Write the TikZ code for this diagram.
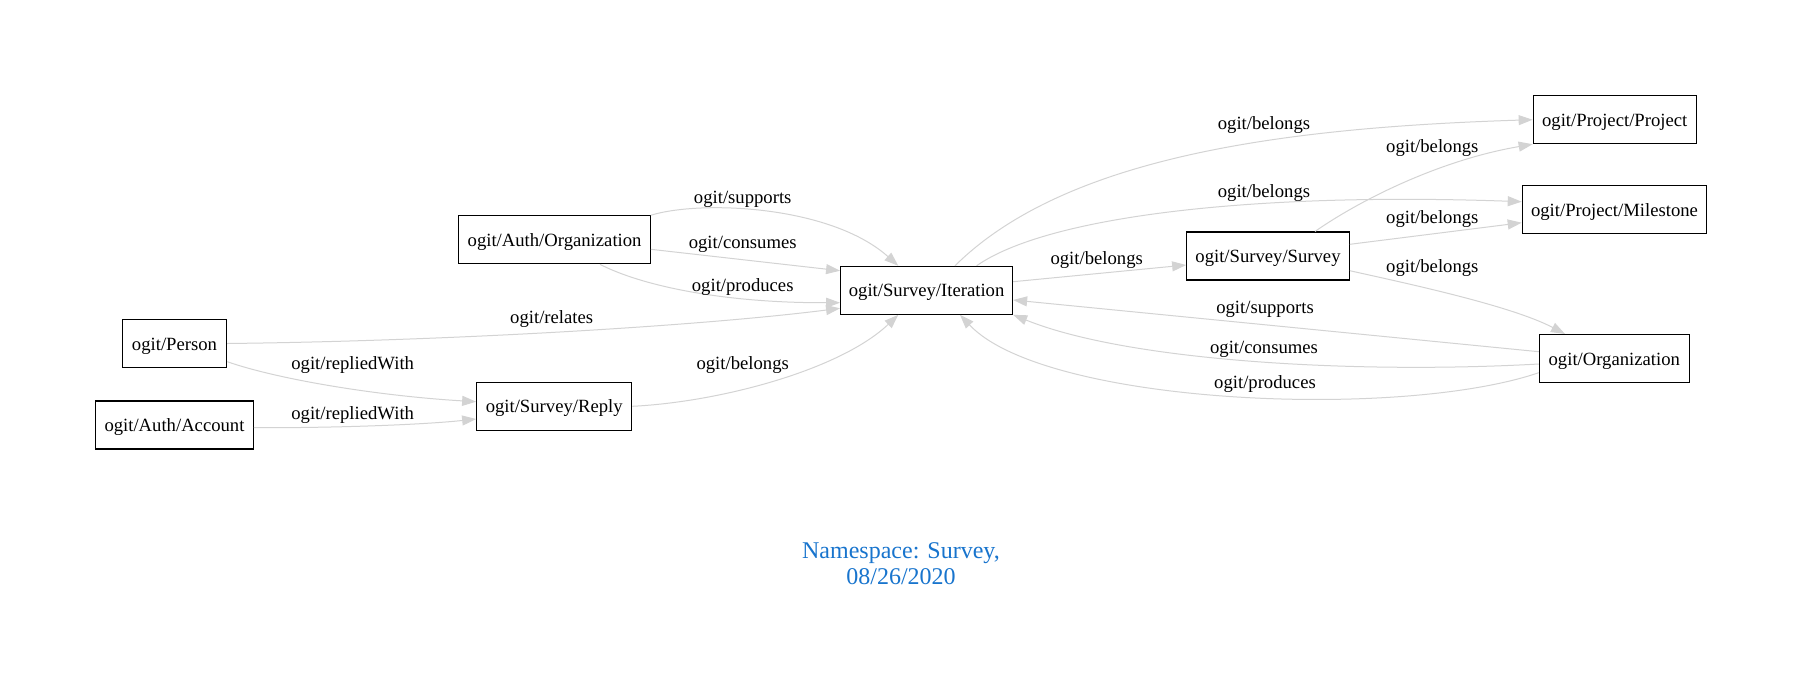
\documentclass[tikz,border=0pt]{standalone}
\usepackage{fontspec}
\setmainfont{Liberation Serif}
\usetikzlibrary{arrows.meta,calc}
\definecolor{edgegray}{RGB}{211,211,211}
\definecolor{titleblue}{RGB}{24,116,205}
\begin{document}
\begin{tikzpicture}[x=0.75pt,y=-0.75pt,
  box/.style={draw=black,line width=0.8pt,minimum height=36pt,inner sep=0pt,text height=13pt,text depth=3pt,font=\fontsize{14}{16}\selectfont},
  edge/.style={draw=edgegray,line width=0.75pt,-{Triangle[length=10.5pt,width=7.5pt,fill=edgegray]}},
  lbl/.style={font=\fontsize{14}{16}\selectfont,inner sep=0pt,text height=13pt,text depth=3pt}]
\useasboundingbox (0,0) rectangle (1803,693);
% nodes
\node[box,minimum width=122.3pt] (proj) at (1614.7,119.7) {ogit/Project/Project};
\node[box,minimum width=138.4pt] (mile) at (1614.5,209.5) {ogit/Project/Milestone};
\node[box,minimum width=122pt] (surv) at (1268,256) {ogit/Survey/Survey};
\node[box,minimum width=112.5pt] (org) at (1614.3,358.5) {ogit/Organization};
\node[box,minimum width=129pt] (iter) at (926.6,290.3) {ogit/Survey/Iteration};
\node[box,minimum width=143.5pt] (aorg) at (554.6,239.8) {ogit/Auth/Organization};
\node[box,minimum width=78.3pt] (person) at (174.5,343.5) {ogit/Person};
\node[box,minimum width=118.2pt] (account) at (174.5,425) {ogit/Auth/Account};
\node[box,minimum width=116.3pt] (reply) at (554.2,406.3) {ogit/Survey/Reply};
% edges
\draw[edge] ($(iter.north)+(28.4,0)$) .. controls (1065,156.7) and (1283,127.5) .. (proj.west);
\draw[edge] ($(iter.north)+(50,0)$) .. controls (1046.7,216.7) and (1250,192) .. ($(mile.west)+(0,-7.8)$);
\draw[edge] ($(iter.east)+(0,-8.6)$) -- ($(surv.west)+(0,9)$);
\draw[edge] ($(surv.north)+(47,0)$) .. controls (1360,200) and (1440,160) .. (proj.south west);
\draw[edge] ($(surv.east)+(0,-11.7)$) -- ($(mile.west)+(0,13.2)$);
\draw[edge] ($(surv.east)+(0,14.7)$) .. controls (1400,282) and (1510,305) .. ($(org.north)+(-49.3,0)$);
\draw[edge] ($(org.west)+(0,-6.8)$) -- ($(iter.east)+(0,9.7)$);
\draw[edge] ($(org.west)+(0,5.5)$) .. controls (1360,374) and (1130,362) .. (iter.south east);
\draw[edge] ($(org.west)+(0,14.2)$) .. controls (1400,420) and (1045,405) .. ($(iter.south)+(33.4,0)$);
\draw[edge] (aorg.north east) .. controls (700,200) and (830,205) .. ($(iter.north)+(-28.3,0)$);
\draw[edge] ($(aorg.east)+(0,9.5)$) -- ($(iter.west)+(0,-19.6)$);
\draw[edge] ($(aorg.south)+(45.4,0)$) .. controls (640,285) and (720,303) .. ($(iter.west)+(0,12.4)$);
\draw[edge] (person.east) .. controls (450,341) and (700,326) .. ($(iter.west)+(0,18)$);
\draw[edge] ($(person.east)+(0,18.2)$) .. controls (280,380) and (380,396) .. ($(reply.west)+(0,-4.6)$);
\draw[edge] ($(account.east)+(0,2.7)$) .. controls (330,428) and (420,425) .. ($(reply.west)+(0,12.7)$);
\draw[edge] (reply.east) .. controls (720,402) and (840,370) .. ($(iter.south)+(-28.3,0)$);
% labels
\node[lbl] (l1) at (1264,122.7) {ogit/belongs};
\node[lbl] (l2) at (1432.3,146) {ogit/belongs};
\node[lbl] (l3) at (1264,191) {ogit/belongs};
\node[lbl] (l4) at (1432.3,216.7) {ogit/belongs};
\node[lbl] (l5) at (1432.3,266) {ogit/belongs};
\node[lbl] (l6) at (1265,307.3) {ogit/supports};
\node[lbl] (l7) at (1264,347.3) {ogit/consumes};
\node[lbl] (l8) at (1265,382) {ogit/produces};
\node[lbl] (l9) at (1096.7,257.7) {ogit/belongs};
\node[lbl] (l10) at (742.7,197.3) {ogit/supports};
\node[lbl] (l11) at (742.7,242) {ogit/consumes};
\node[lbl] (l12) at (742.7,285) {ogit/produces};
\node[lbl] (l13) at (742.7,363.3) {ogit/belongs};
\node[lbl] (l14) at (551.7,317.3) {ogit/relates};
\node[lbl] (l15) at (352.7,363.3) {ogit/repliedWith};
\node[lbl] (l16) at (352.7,413.3) {ogit/repliedWith};
% title
\node[inner sep=0pt,align=center,text=titleblue,font=\fontsize{18}{19.7}\selectfont] (title) at (901,564) {Namespace: Survey,\\08/26/2020};
\end{tikzpicture}
\end{document}
